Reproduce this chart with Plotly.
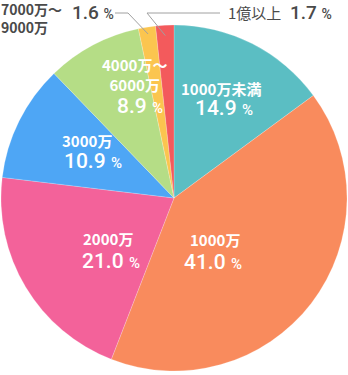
import math
import plotly.graph_objects as go

# ---- data ----
categories = ["1000万未満", "1000万", "2000万", "3000万", "4000万～<br>6000万", "7000万～<br>9000万", "1億以上"]
values = [14.9, 41.0, 21.0, 10.9, 8.9, 1.6, 1.7]
colors = ["#5bbec3", "#f98b5d", "#f3629a", "#4ea6f5", "#b5dd86", "#fbc54f", "#f35a5c"]

W, H = 348, 375
CX, CY, R = 174, 198, 173  # pixel geometry of the pie

fig = go.Figure(go.Pie(
    labels=categories, values=values, sort=False, direction="clockwise", rotation=0,
    marker=dict(colors=colors, line=dict(color="rgba(255,255,255,0.4)", width=0.5)),
    textinfo="none", hoverinfo="label+percent", showlegend=False,
    domain=dict(x=[(CX - R) / W, (CX + R) / W], y=[1 - (CY + R) / H, 1 - (CY - R) / H]),
))

def px_to_paper(px, py):
    return px / W, 1 - py / H

def polar(angle_deg, rfrac):
    a = math.radians(angle_deg)
    return CX + R * rfrac * math.sin(a), CY - R * rfrac * math.cos(a)

total = sum(values)
cum = 0
mids = []
for v in values:
    mids.append((cum + v / 2) / total * 360)
    cum += v

# inside label placement (style): radius fraction, angle nudge, line offsets in px
inside_r = [0.642, 0.50, 0.618, 0.707, 0.735]
angle_nudge = [-0.9, 0, 1.9, -3.9, -3.8]
name_off = [(-1.5, -10), (-1, -11), (0.5, -11), (-1, -10.5), (-7.5, -15.5)]
val_off = [(1.5, 10), (1, 11), (-0.5, 11), (1, 10), (8, 16)]

num_font = "Roboto, sans-serif"
jp_font = "Noto Sans CJK JP, Roboto, sans-serif"
annotations = []
for i in range(5):
    ax, ay = polar(mids[i] + angle_nudge[i], inside_r[i])
    xp, yp = px_to_paper(ax + name_off[i][0], ay + name_off[i][1])
    annotations.append(dict(x=xp, y=yp, xref="paper", yref="paper", text=f"<b>{categories[i]}</b>",
                            showarrow=False, align="center", yanchor="middle",
                            font=dict(color="white", size=15, family=jp_font)))
    xp, yp = px_to_paper(ax + val_off[i][0], ay + val_off[i][1])
    annotations.append(dict(x=xp, y=yp, xref="paper", yref="paper",
                            text=f"{values[i]:.1f} <span style='font-size:15px'>%</span>",
                            showarrow=False, align="center", yanchor="middle",
                            font=dict(color="white", size=21, family=num_font, weight=500)))

gray = "#4a4a4a"
# outside label: 7000万～9000万
xp, yp = px_to_paper(-1, 18)
annotations.append(dict(x=xp, y=yp, xref="paper", yref="paper", xanchor="left", yanchor="middle",
                        text="<b>7000万～<br>9000万</b>", showarrow=False, align="left",
                        font=dict(color=gray, size=14, family=jp_font)))
xp, yp = px_to_paper(70, 12)
annotations.append(dict(x=xp, y=yp, xref="paper", yref="paper", xanchor="left", yanchor="middle",
                        text=f"{values[5]:.1f} <span style='font-size:14px'>%</span>",
                        showarrow=False, font=dict(color=gray, size=19, family=num_font, weight=500)))
# outside label: 1億以上
xp, yp = px_to_paper(226, 13)
annotations.append(dict(x=xp, y=yp, xref="paper", yref="paper", xanchor="left", yanchor="middle",
                        text="1億以上", showarrow=False,
                        font=dict(color=gray, size=15, family=jp_font)))
xp, yp = px_to_paper(288, 12)
annotations.append(dict(x=xp, y=yp, xref="paper", yref="paper", xanchor="left", yanchor="middle",
                        text=f"{values[6]:.1f} <span style='font-size:14px'>%</span>",
                        showarrow=False, font=dict(color=gray, size=19, family=num_font, weight=500)))

shapes = []
line_col = "#a0a0a0"
# leader lines
for idx, (hx0, hx1, rf) in zip([5, 6], [(115, 128, 0.96), (220, 147, 0.94)]):
    ex, ey = polar(mids[idx], rf)
    p0 = px_to_paper(hx0, 13)
    p1 = px_to_paper(hx1, 13)
    p2 = px_to_paper(ex, ey)
    path = f"M {p0[0]},{p0[1]} L {p1[0]},{p1[1]} L {p2[0]},{p2[1]}"
    shapes.append(dict(type="path", path=path, xref="paper", yref="paper",
                       line=dict(color=line_col, width=1)))

fig.update_layout(width=W, height=H, margin=dict(l=0, r=0, t=0, b=0),
                  paper_bgcolor="white", plot_bgcolor="white",
                  annotations=annotations, shapes=shapes)
fig.write_html("out.html")
